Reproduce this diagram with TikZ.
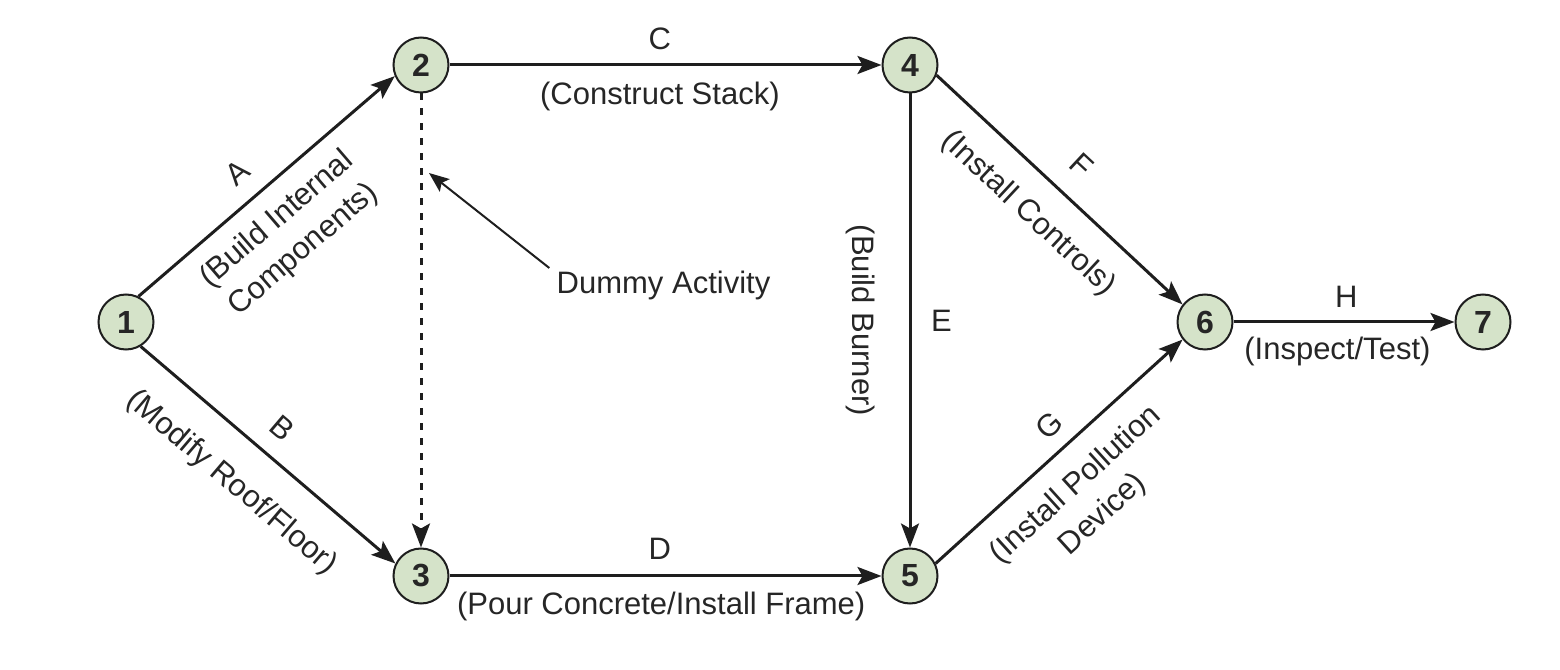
\documentclass[tikz,border=0pt]{standalone}
\usepackage{fontspec}
\setmainfont{Liberation Sans}
\usetikzlibrary{arrows.meta,positioning,calc}
\definecolor{cEvt} {HTML}{D5E3C9}
\definecolor{cLine}{HTML}{1E1E1E}
\definecolor{cTxt} {HTML}{262626}
\tikzset{
  evt/.style ={circle,draw=cLine,fill=cEvt,line width=1pt,minimum size=27.5pt,
               inner sep=0pt,font=\fontsize{16}{19}\selectfont\bfseries,text=cTxt},
  act/.style ={-{Stealth[length=12pt,width=9pt,inset=2.5pt]},draw=cLine,line width=1.5pt},
  dum/.style ={act,dash pattern=on 3.5pt off 4pt},
  ptr/.style ={-{Stealth[length=10pt,width=8pt,inset=2pt]},draw=cLine,line width=1pt},
  lbl/.style ={font=\fontsize{15.5}{20}\selectfont,text=cTxt,inner sep=0pt,align=center},
}

\begin{document}
\begin{tikzpicture}[x=0.5pt,y=0.5pt]
\useasboundingbox (0,0) rectangle (1560,670);

% events
\foreach \n/\x/\y in {1/126/348,2/421/605,3/421/94,4/910/605,
                       5/910/94,6/1205/348,7/1483/348}
  {\node[evt] (ev\n) at (\x,\y) {\n};}

% activities
\draw[act] (ev1.64) -- (ev2.203)
  node[lbl,pos=.46,sloped,above=8.5pt] (lA) {A}
  node[lbl,pos=.46,sloped,below=8.2pt] (tA) {(Build Internal\\Components)};
\draw[act] (ev1.-59) -- (ev3.154)
  node[lbl,pos=.48,sloped,above=8.5pt] (lB) {B}
  node[lbl,pos=.47,sloped,below=14.5pt] (tB) {(Modify Roof/Floor)};
\draw[act] (ev2) -- (ev4)
  node[lbl,pos=.487,above=7pt] (lC) {C}
  node[lbl,pos=.487,below=7.7pt] (tC) {(Construct Stack)};
\draw[act] (ev3) -- (ev5)
  node[lbl,pos=.487,above=7.5pt] (lD) {D}
  node[lbl,pos=.49,below=7.2pt] (tD) {(Pour Concrete/Install Frame)};
\draw[act] (ev4) -- (ev5)
  node[lbl,pos=.5,right=9.8pt] (lE) {E}
  node[lbl,pos=.5,sloped,below=16.7pt] (tE) {(Build Burner)};
\draw[act] (ev4.-21) -- (ev6.142)
  node[lbl,pos=.5,sloped,above=10.5pt] (lF) {F}
  node[lbl,pos=.48,sloped,below=11.5pt] (tF) {(Install Controls)};
\draw[act] (ev5.26) -- (ev6.218)
  node[lbl,pos=.53,sloped,above=6.5pt] (lG) {G}
  node[lbl,pos=.47,sloped,below=10.2pt] (tG) {(Install Pollution\\Device)};
\draw[act] (ev6) -- (ev7)
  node[lbl,pos=.51,above=6.5pt] (lH) {H}
  node[lbl,pos=.47,below=6.7pt] (tH) {(Inspect/Test)};

% dummy
\draw[dum] (ev2) -- (ev3);
\node[lbl] (dummy) at (663.5,385) {Dummy Activity};
\coordinate (dtip) at (429,497);
\draw[ptr] ($(dummy.west)+(-7,17)$) -- (dtip);
\end{tikzpicture}
\end{document}
